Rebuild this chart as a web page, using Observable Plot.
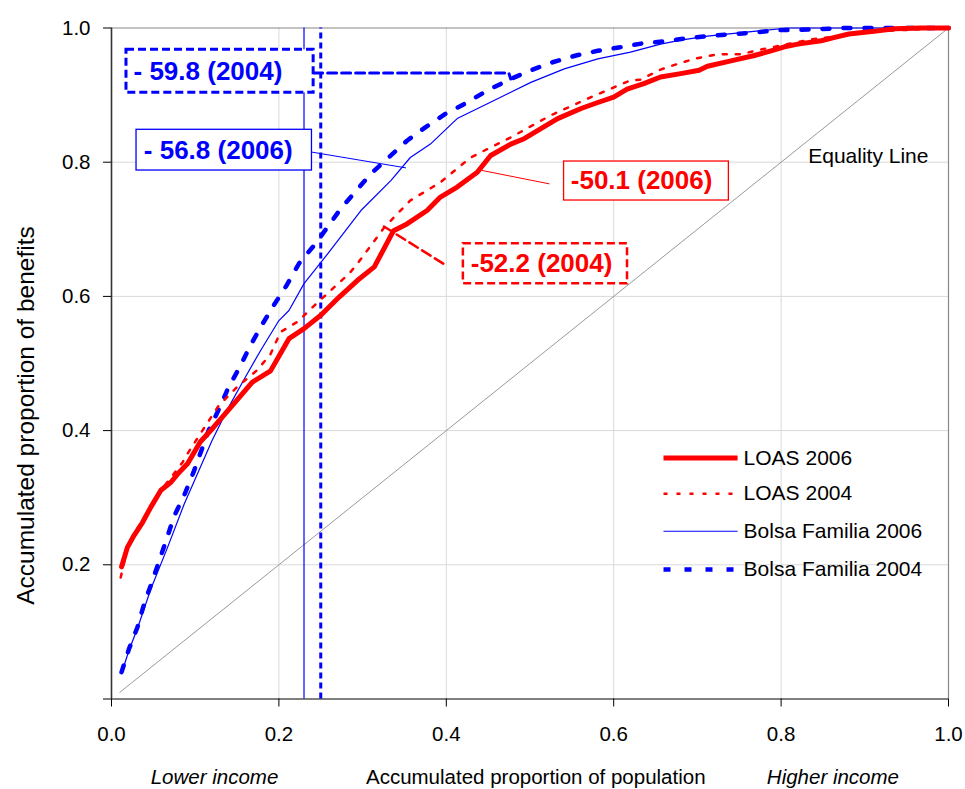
<!DOCTYPE html>
<html><head><meta charset="utf-8">
<script src="https://cdn.jsdelivr.net/npm/d3@7"></script>
<script src="https://cdn.jsdelivr.net/npm/@observablehq/plot@0.6"></script>
<style>body{margin:0;background:#fff}</style>
</head><body><div id="chart"></div>
<script>
// ---------- data ----------
const loas2006X = [0.012,0.019,0.027,0.037,0.047,0.059,0.071,0.081,0.091,0.106,0.122,0.146,0.168,0.190,0.212,0.230,0.250,0.272,0.294,0.314,0.337,0.353,0.377,0.393,0.413,0.437,0.453,0.477,0.493,0.509,0.533,0.561,0.581,0.600,0.616,0.636,0.656,0.680,0.702,0.712,0.740,0.768,0.788,0.804,0.820,0.848,0.864,0.881,0.911,0.935,0.967,1.0];
const loas2006Y = [0.197,0.226,0.244,0.263,0.286,0.311,0.323,0.338,0.351,0.383,0.405,0.440,0.472,0.489,0.537,0.552,0.572,0.599,0.624,0.644,0.698,0.708,0.728,0.748,0.763,0.785,0.810,0.827,0.835,0.847,0.865,0.880,0.889,0.897,0.909,0.917,0.927,0.932,0.937,0.943,0.951,0.959,0.966,0.972,0.976,0.981,0.986,0.991,0.995,0.999,1.0,1.0];

const loas2004X = [0.011,0.019,0.027,0.037,0.047,0.059,0.071,0.085,0.092,0.106,0.128,0.150,0.174,0.190,0.202,0.222,0.242,0.262,0.284,0.294,0.326,0.357,0.393,0.429,0.477,0.525,0.573,0.620,0.632,0.656,0.670,0.696,0.724,0.752,0.776,0.804,0.836,0.871,0.911,1.0];
const loas2004Y = [0.181,0.226,0.246,0.266,0.288,0.311,0.330,0.353,0.368,0.395,0.437,0.465,0.490,0.514,0.547,0.562,0.586,0.609,0.634,0.649,0.703,0.743,0.770,0.807,0.837,0.870,0.897,0.922,0.923,0.938,0.944,0.954,0.961,0.961,0.968,0.975,0.983,0.988,0.995,1.0];

const bf2006X = [0.012,0.021,0.031,0.047,0.067,0.087,0.106,0.120,0.128,0.140,0.160,0.178,0.200,0.212,0.230,0.258,0.298,0.334,0.357,0.381,0.413,0.457,0.501,0.541,0.581,0.620,0.656,0.680,0.712,0.744,0.776,0.808,1.0];
const bf2006Y = [0.038,0.073,0.105,0.164,0.226,0.291,0.345,0.385,0.405,0.435,0.480,0.519,0.564,0.579,0.619,0.663,0.728,0.773,0.807,0.827,0.865,0.892,0.919,0.939,0.954,0.964,0.976,0.982,0.988,0.992,0.996,1.0,1.0];

const bf2004X = [0.012,0.021,0.031,0.039,0.048,0.057,0.066,0.075,0.087,0.098,0.116,0.128,0.140,0.153,0.166,0.180,0.194,0.209,0.224,0.242,0.258,0.274,0.310,0.332,0.353,0.375,0.399,0.425,0.449,0.477,0.501,0.527,0.555,0.581,0.606,0.634,0.660,0.688,0.714,0.742,0.768,0.794,0.820,0.876,1.0];
const bf2004Y = [0.040,0.075,0.107,0.142,0.173,0.206,0.239,0.273,0.304,0.338,0.400,0.431,0.465,0.494,0.527,0.558,0.587,0.616,0.649,0.676,0.703,0.731,0.783,0.808,0.832,0.852,0.872,0.889,0.907,0.924,0.937,0.949,0.959,0.966,0.971,0.977,0.980,0.985,0.988,0.991,0.993,0.997,0.997,1.0,1.0];

const equalityX = [0.01, 1.0];
const equalityY = [0.01, 1.0];

// population share at which each Bolsa Familia curve is cut (vertical markers)
const bf2006Cut = 0.23;
const bf2004Cut = 0.25;

const seriesNames = ["LOAS 2006", "LOAS 2004", "Bolsa Familia 2006", "Bolsa Familia 2004"];
const annotationTexts = ["- 59.8 (2004)", "- 56.8 (2006)", "-50.1 (2006)", "-52.2 (2004)"];
const xTicks = [0, 0.2, 0.4, 0.6, 0.8, 1.0];
const yTicks = [0, 0.2, 0.4, 0.6, 0.8, 1.0];
const gridTicks = [0.2, 0.4, 0.6, 0.8];

// ---------- styles & layout ----------
const FONT = "'Liberation Sans', Arial, Helvetica, sans-serif";
const RED = "#ff0000", BLUE = "#0000ff";
const styles = {
  "LOAS 2006": {stroke: RED, strokeWidth: 5},
  "LOAS 2004": {stroke: RED, strokeWidth: 2.5, strokeDasharray: "4,9"},
  "Bolsa Familia 2006": {stroke: BLUE, strokeWidth: 1.2},
  "Bolsa Familia 2004": {stroke: BLUE, strokeWidth: 4.5, strokeDasharray: "7,14"}
};
const legendLayout = {x1: 0.6595, x2: 0.748, tx: 0.7552, ys: [0.359, 0.306, 0.250, 0.193]};
const annLayout = [
  {box: [0.0179, 0.2415, 0.9034, 0.9675], tx: 0.0263, ty: 0.9355, color: BLUE, boxW: 3, boxDash: "8,4",
   leader: [[0.2415, 0.933], [0.4746, 0.933], [0.477, 0.924]], leadW: 3, leadDash: "9,5"},
  {box: [0.0299, 0.2395, 0.7876, 0.8483], tx: 0.0386, ty: 0.8179, color: BLUE, boxW: 1.3, boxDash: null,
   leader: [[0.2395, 0.815], [0.3515, 0.7916]], leadW: 1, leadDash: null},
  {box: [0.5407, 0.7376, 0.7429, 0.8010], tx: 0.5487, ty: 0.772, color: RED, boxW: 1.3, boxDash: null,
   leader: [[0.4431, 0.7876], [0.5228, 0.7678]], leadW: 1, leadDash: null},
  {box: [0.4204, 0.6165, 0.6188, 0.6784], tx: 0.4292, ty: 0.6486, color: RED, boxW: 2.5, boxDash: "8,4",
   leader: [[0.3255, 0.7042], [0.4013, 0.645]], leadW: 2.5, leadDash: "10,5"}
];
const yLabelPos = {x: -0.1025, y: 0.4225};

const rows = (xs, ys) => xs.map((x, i) => ({x, y: ys[i]}));
const fmt = d3.format(".1f");
const seriesData = {
  "LOAS 2006": rows(loas2006X, loas2006Y),
  "LOAS 2004": rows(loas2004X, loas2004Y),
  "Bolsa Familia 2006": rows(bf2006X, bf2006Y),
  "Bolsa Familia 2004": rows(bf2004X, bf2004Y)
};
const drawOrder = ["Bolsa Familia 2004", "Bolsa Familia 2006", "LOAS 2004", "LOAS 2006"];

const marks = [
  Plot.gridX(gridTicks, {stroke: "#d9d9d9", strokeOpacity: 1, strokeWidth: 1}),
  Plot.gridY(gridTicks, {stroke: "#d9d9d9", strokeOpacity: 1, strokeWidth: 1}),
  Plot.ruleY([1], {stroke: "#888888", strokeWidth: 1.2}),
  Plot.ruleX([1], {stroke: "#888888", strokeWidth: 1.2}),
  Plot.line(rows(equalityX, equalityY), {x: "x", y: "y", stroke: "#999999", strokeWidth: 1}),
  Plot.ruleX([bf2006Cut], {x: d => d, y1: 0, y2: 1, stroke: BLUE, strokeWidth: 1.2}),
  Plot.ruleX([bf2004Cut], {x: d => d, y1: 0, y2: 1, stroke: BLUE, strokeWidth: 3, strokeDasharray: "6,4"})
];
for (const name of drawOrder) {
  marks.push(Plot.line(seriesData[name], {x: "x", y: "y", strokeLinejoin: "round", ...styles[name]}));
}
marks.push(
  Plot.ruleX([0], {stroke: "#333333", strokeWidth: 1.6}),
  Plot.ruleY([0], {stroke: "#000000", strokeWidth: 1.2}),
  Plot.axisX(xTicks, {anchor: "bottom", tickSize: 8, tickPadding: 19, tickFormat: fmt, fontSize: 20.5, label: null}),
  Plot.axisY(yTicks, {anchor: "left", tickSize: 8, tickPadding: 13, tickFormat: d => d === 0 ? "" : fmt(d), fontSize: 20.5, label: null})
);
annLayout.forEach((a, i) => {
  marks.push(Plot.line(a.leader.map(([x, y]) => ({x, y})), {x: "x", y: "y", stroke: a.color, strokeWidth: a.leadW, strokeDasharray: a.leadDash || undefined}));
  marks.push(Plot.rect([a], {x1: d => d.box[0], x2: d => d.box[1], y1: d => d.box[2], y2: d => d.box[3], fill: "white", stroke: a.color, strokeWidth: a.boxW, strokeDasharray: a.boxDash || undefined}));
  marks.push(Plot.text([annotationTexts[i]], {x: a.tx, y: a.ty, text: d => d, textAnchor: "start", lineAnchor: "middle", fill: a.color, fontSize: 26, fontWeight: "bold"}));
});
marks.push(Plot.text(["Equality Line"], {x: 0.8324, y: 0.809, text: d => d, textAnchor: "start", fontSize: 21, fill: "black"}));
seriesNames.forEach((name, i) => {
  const y = legendLayout.ys[i];
  marks.push(Plot.link([name], {x1: legendLayout.x1, x2: legendLayout.x2, y1: y, y2: y, ...styles[name]}));
  marks.push(Plot.text([name], {x: legendLayout.tx, y, text: d => d, textAnchor: "start", fontSize: 21, fill: "black"}));
});
const bottomItalic = [{x: 0.1231, t: "Lower income"}, {x: 0.8619, t: "Higher income"}];
const bottomNormal = [{x: 0.5069, t: "Accumulated proportion of population"}];
marks.push(
  Plot.text(bottomItalic, {x: "x", text: "t", frameAnchor: "bottom", dy: 85, fontSize: 20.5, fontStyle: "italic", fill: "black"}),
  Plot.text(bottomNormal, {x: "x", text: "t", frameAnchor: "bottom", dy: 85, fontSize: 20.5, fill: "black"}),
  Plot.text(["Accumulated proportion of benefits"], {x: yLabelPos.x, y: yLabelPos.y, rotate: -90, text: d => d, fontSize: 24.5, fill: "black"})
);

const chart = Plot.plot({
  width: 965, height: 789,
  marginLeft: 111, marginRight: 17, marginTop: 27.5, marginBottom: 90.5,
  style: {fontFamily: FONT, fontSize: "20px", color: "black", background: "white", overflow: "visible"},
  x: {domain: [0, 1], label: null},
  y: {domain: [0, 1], label: null},
  marks
});
document.getElementById("chart").appendChild(chart);
</script>
</body></html>
